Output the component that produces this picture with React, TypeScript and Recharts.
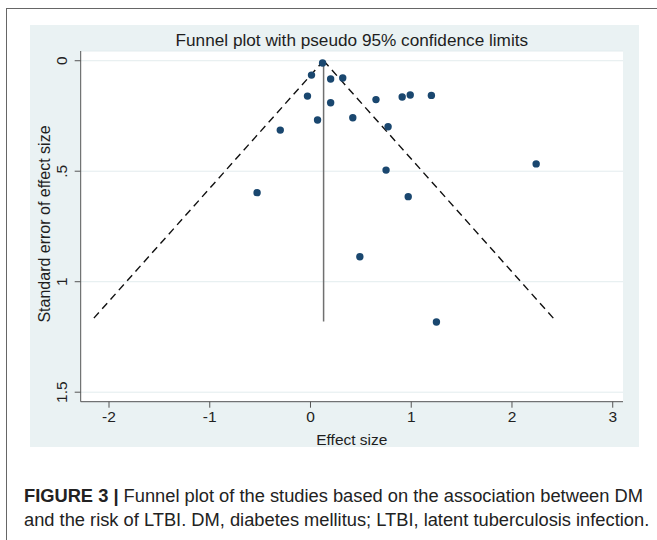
import React from "react";
import { ScatterChart, Scatter, XAxis, YAxis, CartesianGrid, ReferenceLine } from "recharts";

// study estimates
const effectSize = [0.12, 0.01, 0.2, 0.32, -0.03, 0.65, 0.91, 0.99, 1.2, 0.2, 0.07, 0.42, -0.3, 0.77, 0.75, 2.24, -0.53, 0.97, 0.49, 1.25];
const standardError = [0.01, 0.065, 0.083, 0.078, 0.16, 0.176, 0.164, 0.155, 0.157, 0.19, 0.268, 0.258, 0.314, 0.299, 0.495, 0.467, 0.597, 0.615, 0.887, 1.182];

// pooled estimate line and pseudo 95% limits (end points)
const pooledLine = [{ x: 0.13, y: 0 }, { x: 0.13, y: 1.18 }];
const lowerLimit = [{ x: 0.13, y: 0 }, { x: -2.18, y: 1.18 }];
const upperLimit = [{ x: 0.13, y: 0 }, { x: 2.44, y: 1.18 }];

const xTicks = [-2, -1, 0, 1, 2, 3];
const yTicks = [0, 0.5, 1, 1.5];
const yTickLabels = ["0", ".5", "1", "1.5"];

const studies = effectSize.map((x, i) => ({ x, y: standardError[i] }));

const FONT = "'Liberation Sans', Arial, Helvetica, sans-serif";
const BG = "#eaf2f3";

const YTick = (props: any) => {
  const { x, y, payload } = props;
  const i = yTicks.indexOf(payload.value);
  const cx = x - 11.5;
  return (
    <text
      x={cx}
      y={y}
      transform={`rotate(-90 ${cx} ${y})`}
      textAnchor="middle"
      dominantBaseline="central"
      fontSize={15.5}
      fill="#222"
    >
      {yTickLabels[i]}
    </text>
  );
};

const Dot = (props: any) => <circle cx={props.cx} cy={props.cy} r={3.7} fill="#1a476f" />;

export default function App() {
  return (
    <div style={{ position: "absolute", left: 0, top: 0, width: 657, height: 540, background: "#fff", fontFamily: FONT, overflow: "hidden" }}>
      {/* figure frame */}
      <div style={{ position: "absolute", left: 6, top: 8, width: 700, height: 600, borderTop: "1.5px solid #666", borderLeft: "1.5px solid #666" }} />
      <div style={{ position: "absolute", left: 30, top: 25, width: 609, height: 422, background: BG }} />

      <div style={{ position: "absolute", left: 30, top: 25 }}>
        <ScatterChart width={609} height={422} margin={{ top: 26, right: 16, bottom: 0, left: 0 }}>
          <CartesianGrid fill="#fff" stroke="#e3ecee" vertical={false} />
          <XAxis
            type="number"
            dataKey="x"
            domain={[-2.281, 3.102]}
            allowDataOverflow
            ticks={xTicks}
            height={45.3}
            tickSize={6}
            tickMargin={3}
            stroke="#555"
            tick={{ fill: "#222", fontSize: 15.5 }}
          />
          <YAxis
            type="number"
            dataKey="y"
            domain={[-0.044, 1.543]}
            allowDataOverflow
            reversed
            ticks={yTicks}
            width={50.7}
            tickSize={6}
            stroke="#555"
            tick={<YTick />}
          />
          <ReferenceLine segment={lowerLimit} stroke="#111" strokeWidth={1.4} strokeDasharray="7.5 5" ifOverflow="visible" />
          <ReferenceLine segment={upperLimit} stroke="#111" strokeWidth={1.4} strokeDasharray="7.5 5" ifOverflow="visible" />
          <ReferenceLine segment={pooledLine} stroke="#707070" strokeWidth={1.5} ifOverflow="visible" />
          <Scatter data={studies} shape={<Dot />} isAnimationActive={false} />
        </ScatterChart>
      </div>

      {/* titles */}
      <div style={{ position: "absolute", left: 80.7, top: 29, width: 542.3, textAlign: "center", fontSize: 17.2, lineHeight: "22px", color: "#1e1e1e" }}>
        Funnel plot with pseudo 95% confidence limits
      </div>
      <div style={{ position: "absolute", left: 80.7, top: 430, width: 542.3, textAlign: "center", fontSize: 15.5, lineHeight: "20px", color: "#1e1e1e" }}>
        Effect size
      </div>
      <div
        style={{
          position: "absolute",
          left: 45 - 150,
          top: 224 - 10,
          width: 300,
          height: 20,
          lineHeight: "20px",
          textAlign: "center",
          fontSize: 16,
          color: "#1e1e1e",
          transform: "rotate(-90deg)",
        }}
      >
        Standard error of effect size
      </div>

      {/* caption */}
      <div style={{ position: "absolute", left: 24, top: 484, width: 640, fontSize: 18.3, lineHeight: "24px", color: "#222", whiteSpace: "nowrap" }}>
        <b>FIGURE 3 |</b> Funnel plot of the studies based on the association between DM
        <br />
        and the risk of LTBI. DM, diabetes mellitus; LTBI, latent tuberculosis infection.
      </div>
    </div>
  );
}
